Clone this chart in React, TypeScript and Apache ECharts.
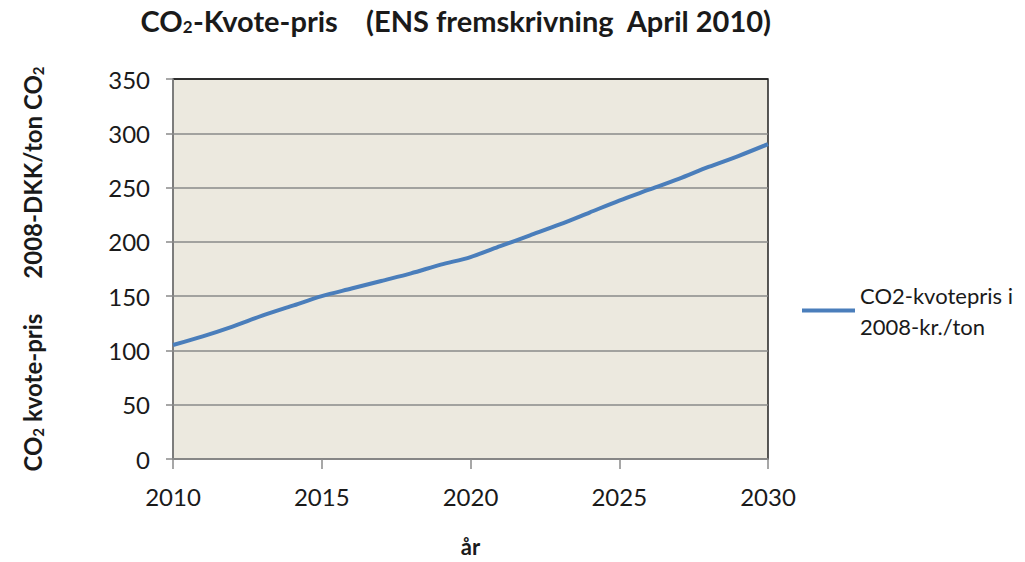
import React, { useEffect, useRef } from "react";
import * as echarts from "echarts";

const years = [2010, 2011, 2012, 2013, 2014, 2015, 2016, 2017, 2018, 2019, 2020, 2021, 2022, 2023, 2024, 2025, 2026, 2027, 2028, 2029, 2030];
const prices = [105, 113, 122, 132, 141, 150, 157, 164, 171, 179, 186, 196, 206, 216, 227, 238, 248, 258, 269, 279, 290];
const seriesName = "CO2-kvotepris i 2008-kr./ton";
const yTicks = [0, 50, 100, 150, 200, 250, 300, 350];

const FONT = "Lato";
const TEXT = "#1a1a1a";
const GRIDLINE = "#8a8a8a";

export default function App() {
  const ref = useRef<HTMLDivElement>(null);
  useEffect(() => {
    if (!ref.current) return;
    const chart = echarts.init(ref.current, null, { renderer: "svg" });
    const data = years.map((y, i) => [y, prices[i]]);
    chart.setOption({
      animation: false,
      backgroundColor: "#ffffff",
      textStyle: { fontFamily: FONT },
      title: {
        text: "{a|CO}{s|2}{a|-Kvote-pris    (ENS fremskrivning  April 2010)}",
        left: 451,
        textAlign: "center",
        top: 1,
        textStyle: {
          rich: {
            a: { fontFamily: FONT, fontWeight: "bold", fontSize: 29, color: TEXT },
            s: { fontFamily: FONT, fontWeight: "bold", fontSize: 17, color: TEXT, padding: [12, 0, 0, 0] },
          },
        },
      },
      legend: {
        left: 797,
        top: 245,
        orient: "vertical",
        icon: "rect",
        itemWidth: 53,
        itemHeight: 4,
        data: [seriesName],
        formatter: (n: string) => n.replace(" i ", " i\n"),
        textStyle: { fontFamily: FONT, fontSize: 22, color: TEXT, lineHeight: 31, padding: [59, 0, 0, 0] },
      },
      grid: {
        left: 173,
        right: 257,
        top: 79,
        bottom: 102,
        show: true,
        backgroundColor: "#ECE9DF",
        borderColor: "#222222",
        borderWidth: 1.5,
      },
      xAxis: {
        type: "value",
        min: 2010,
        max: 2030,
        interval: 5,
        name: "år",
        nameLocation: "middle",
        nameGap: 76,
        nameTextStyle: { fontFamily: FONT, fontWeight: "bold", fontSize: 22, color: TEXT },
        axisLine: { show: true, lineStyle: { color: GRIDLINE, width: 1.5 } },
        axisTick: { show: true, inside: false, length: 10, lineStyle: { color: GRIDLINE, width: 1.5 } },
        axisLabel: { formatter: (v: number) => String(v), fontFamily: FONT, fontSize: 24, color: TEXT, margin: 25 },
        splitLine: { show: false },
      },
      yAxis: {
        type: "value",
        min: 0,
        max: 350,
        interval: 50,
        name: "{a|CO}{s|2}{a| kvote-pris      2008-DKK/ton CO}{s|2}",
        nameLocation: "middle",
        nameRotate: 90,
        nameGap: 128,
        nameTextStyle: {
          rich: {
            a: { fontFamily: FONT, fontWeight: "bold", fontSize: 24, color: TEXT },
            s: { fontFamily: FONT, fontWeight: "bold", fontSize: 15, color: TEXT, padding: [10, 0, 0, 0] },
          },
        },
        axisLine: { show: true, lineStyle: { color: GRIDLINE, width: 1.5 } },
        axisTick: { show: true, inside: false, length: 7, lineStyle: { color: GRIDLINE, width: 1.5 } },
        axisLabel: { fontFamily: FONT, fontSize: 24, color: TEXT, margin: 23 },
        splitLine: {
          show: true,
          lineStyle: { color: yTicks.map((t, i) => (i === yTicks.length - 1 ? "#222222" : GRIDLINE)), width: 1.5 },
        },
      },
      series: [
        {
          name: seriesName,
          type: "line",
          data,
          symbol: "none",
          smooth: 0.3,
          lineStyle: { color: "#4A7EBB", width: 4 },
          itemStyle: { color: "#4A7EBB" },
        },
      ],
    });
    return () => chart.dispose();
  }, []);
  return <div ref={ref} style={{ position: "fixed", left: 0, top: 0, width: 1025, height: 562 }} />;
}
